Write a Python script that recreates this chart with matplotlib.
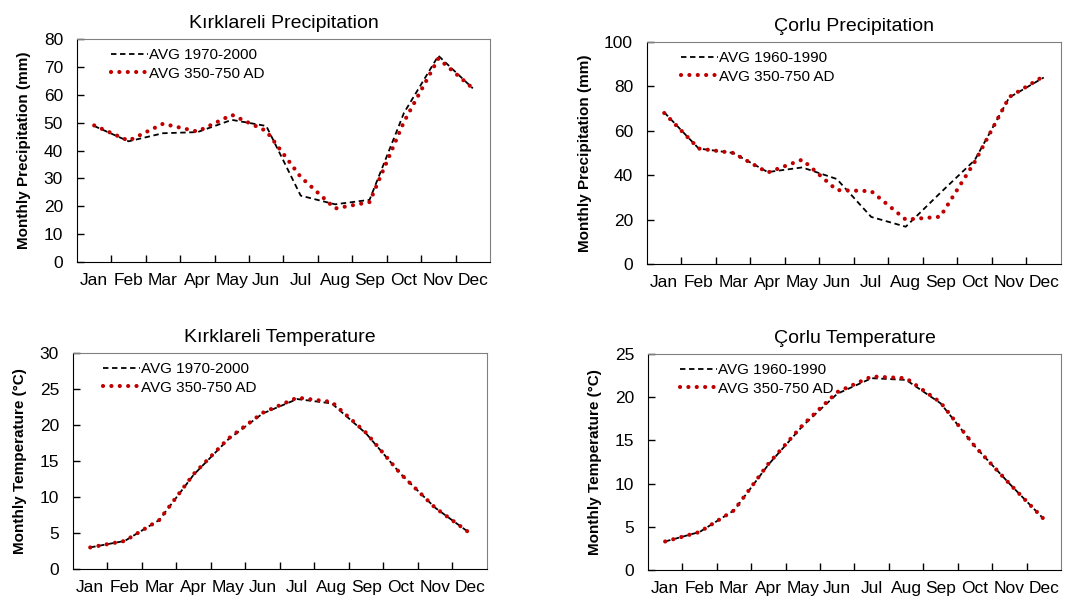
import matplotlib
matplotlib.use('Agg')
import matplotlib.pyplot as plt

months = ['Jan', 'Feb', 'Mar', 'Apr', 'May', 'Jun', 'Jul', 'Aug', 'Sep', 'Oct', 'Nov', 'Dec']

# Kirklareli precipitation (mm)
kirk_prec_modern = [48.8, 43.3, 46.2, 46.6, 51.0, 48.8, 23.8, 20.7, 22.3, 53.5, 74.0, 62.3]
kirk_prec_ancient = [49.0, 43.5, 49.6, 46.8, 52.8, 47.0, 30.5, 19.2, 21.5, 50.3, 73.0, 62.3]
# Corlu precipitation (mm)
corlu_prec_modern = [68.3, 52.0, 50.0, 41.4, 43.5, 38.3, 21.2, 16.8, 32.0, 46.8, 75.0, 84.0]
corlu_prec_ancient = [68.0, 52.0, 50.0, 41.2, 47.0, 33.3, 32.8, 20.0, 21.3, 46.0, 75.2, 84.6]
# Kirklareli temperature (C)
kirk_temp_modern = [3.0, 3.9, 6.8, 13.1, 18.0, 21.6, 23.6, 23.0, 18.8, 13.2, 8.5, 5.0]
kirk_temp_ancient = [3.0, 3.9, 6.8, 13.2, 18.1, 21.7, 23.8, 23.2, 18.9, 13.2, 8.5, 5.0]
# Corlu temperature (C)
corlu_temp_modern = [3.3, 4.4, 6.9, 12.2, 16.7, 20.4, 22.2, 22.0, 19.3, 14.3, 10.0, 5.9]
corlu_temp_ancient = [3.3, 4.4, 6.9, 12.3, 16.8, 20.6, 22.4, 22.2, 19.4, 14.3, 10.0, 5.9]

plt.rcParams['font.family'] = ['Liberation Sans', 'DejaVu Sans']

fig = plt.figure(figsize=(10.81, 6.04), dpi=100)

panels = [
    ([0.0712, 0.5662, 0.3821, 0.3692], 'Kırklareli Precipitation', 'Monthly Precipitation (mm)',
     kirk_prec_modern, kirk_prec_ancient, 'AVG 1970-2000', 80, 10, 0.06),
    ([0.5985, 0.5629, 0.3830, 0.3676], 'Çorlu Precipitation', 'Monthly Precipitation (mm)',
     corlu_prec_modern, corlu_prec_ancient, 'AVG 1960-1990', 100, 20, 0.06),
    ([0.0675, 0.0579, 0.3830, 0.3577], 'Kırklareli Temperature', 'Monthly Temperature (°C)',
     kirk_temp_modern, kirk_temp_ancient, 'AVG 1970-2000', 30, 5, 0.05),
    ([0.5994, 0.0563, 0.3821, 0.3576], 'Çorlu Temperature', 'Monthly Temperature (°C)',
     corlu_temp_modern, corlu_temp_ancient, 'AVG 1960-1990', 25, 5, 0.055),
]

x = list(range(1, 13))
for rect, title, ylabel, modern, ancient, modern_label, ymax, ystep, legx in panels:
    ax = fig.add_axes(rect)
    ax.plot(x, modern, color='black', lw=1.3, linestyle=(0, (3, 2)), label=modern_label)
    ax.plot(x, ancient, color='#c00000', lw=3.0, linestyle=(0, (0.01, 2.0)),
            dash_capstyle='round', label='AVG 350-750 AD')
    ax.set_xlim(0.5, 12.5)
    ax.set_ylim(0, ymax)
    ax.set_yticks(range(0, ymax + 1, ystep))
    ax.set_xticks([i + 0.5 for i in range(1, 12)])
    ax.set_xticklabels([])
    ax.set_xticks(x, minor=True)
    ax.set_xticklabels(months, minor=True)
    ax.tick_params(axis='x', which='major', direction='in', length=5, width=1)
    ax.tick_params(axis='x', which='minor', length=0, pad=8, labelsize=12.5)
    ax.tick_params(axis='y', direction='in', length=5, width=1, labelsize=12.5, pad=10)
    for side in ['top', 'right']:
        ax.spines[side].set_color('#808080')
    for side in ['left', 'bottom']:
        ax.spines[side].set_color('black')
    ax.set_title(title, fontsize=14, pad=8)
    ax.set_ylabel(ylabel, fontsize=11, fontweight='bold', labelpad=9)
    ax.legend(loc='upper left', bbox_to_anchor=(legx, 1.0), frameon=False, fontsize=11,
              handlelength=2.4, handletextpad=0.1, labelspacing=0.3, borderaxespad=0.2)

fig.savefig('out.png', dpi=100)
